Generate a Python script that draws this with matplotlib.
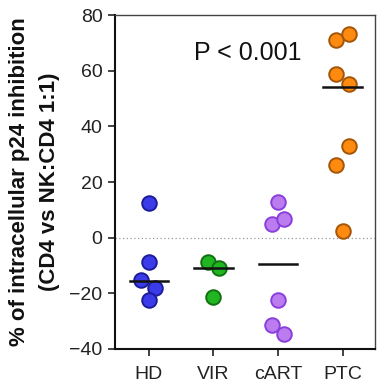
import numpy as np
import matplotlib
matplotlib.use("Agg")
import matplotlib.pyplot as plt

plt.rcParams['font.family'] = ['Liberation Sans', 'DejaVu Sans']

groups = ["HD", "VIR", "cART", "PTC"]
hd = [12.5, -8.8, -15.1, -18.0, -22.3]
hd_dx = [0.0, 0.0, -0.12, 0.09, 0.0]
vir = [-8.8, -10.8, -21.4]
vir_dx = [-0.09, 0.09, 0.0]
cart = [12.9, 5.0, 6.8, -22.3, -31.4, -34.6]
cart_dx = [0.0, -0.1, 0.1, 0.0, -0.1, 0.09]
ptc = [70.9, 73.0, 58.9, 55.3, 26.1, 33.0, 2.4]
ptc_dx = [-0.1, 0.1, -0.1, 0.1, -0.1, 0.1, 0.0]
medians = [-15.5, -10.8, -9.4, 54.3]

fills = ["#3b3bea", "#22b522", "#bb7cf0", "#ff8a10"]
edges = ["#1c1c9a", "#117011", "#8a3fdc", "#a35508"]

fig = plt.figure(figsize=(3.77, 3.82), dpi=100)
ax = fig.add_axes([0.305, 0.0864, 0.691, 0.8743])

ax.axhline(0, color="#999999", linestyle=(0, (1, 2)), linewidth=0.9, zorder=1)

data = [(hd, hd_dx), (vir, vir_dx), (cart, cart_dx), (ptc, ptc_dx)]
for i, (vals, dx) in enumerate(data):
    xs = i + np.array(dx)
    ax.scatter(xs, vals, s=110, c=fills[i], edgecolors=edges[i], linewidths=1.4, zorder=3)
    ax.plot([i - 0.3, i + 0.3], [medians[i], medians[i]], color="#111111", linewidth=1.8, zorder=4)

ax.text(1.53, 66.3, "P < 0.001", fontsize=18, ha="center", va="center", color="#111111")

ax.set_xlim(-0.525, 3.51)
ax.set_ylim(-40, 80)
ax.set_yticks([-40, -20, 0, 20, 40, 60, 80])
ax.set_xticks(range(4))
ax.set_xticklabels(groups)
ax.tick_params(axis="both", labelsize=14, colors="#222222", length=5, width=1.2, pad=4)
ax.tick_params(axis="x", pad=7)
for sp in ["left", "bottom"]:
    ax.spines[sp].set_linewidth(1.5)
    ax.spines[sp].set_color("#111111")
for sp in ["top", "right"]:
    ax.spines[sp].set_linewidth(1.0)
    ax.spines[sp].set_color("#444444")

ax.set_ylabel("% of intracellular p24 inhibition\n(CD4 vs NK:CD4 1:1)",
              fontsize=16, fontweight="bold", linespacing=1.6, color="#111111")
ax.yaxis.set_label_coords(-0.21, 0.5)

fig.savefig("out.png", dpi=100)
